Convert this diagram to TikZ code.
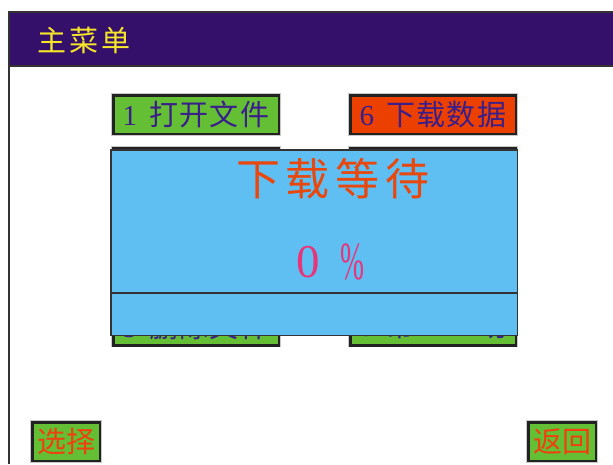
\documentclass[tikz,border=0pt]{standalone}
\usepackage{fontspec}
\setmainfont{Liberation Serif}
\newfontfamily\cjk{Noto Sans CJK SC}
\definecolor{hdrbg}{HTML}{34106B}
\definecolor{hdrtxt}{HTML}{F5E62A}
\definecolor{btngreen}{HTML}{64BF34}
\definecolor{btnorange}{HTML}{EC4000}
\definecolor{btnline}{HTML}{222222}
\definecolor{btnshadow}{HTML}{C8C8C8}
\definecolor{btntxt}{HTML}{3A1E8A}
\definecolor{redtxt}{HTML}{F0400E}
\definecolor{popbg}{HTML}{5FBFF2}
\definecolor{popline}{HTML}{333333}
\definecolor{titletxt}{HTML}{E8480E}
\definecolor{pinktxt}{HTML}{E8357A}
\newcommand{\zh}[1]{{\cjk #1}}
\tikzset{
  btn/.style={draw=btnline, line width=2.5pt, fill=btngreen, inner sep=0pt,
    preaction={draw=btnshadow, line width=4pt},
    minimum width=165.5pt, minimum height=38.5pt, text=btntxt,
    font=\fontsize{29}{30}\selectfont},
  smallbtn/.style={btn, minimum width=67.5pt, text=redtxt},
  popup/.style={draw=popline, line width=1.5pt, fill=popbg, inner sep=0pt,
    minimum width=406.5pt, minimum height=185.5pt},
}
\begin{document}
\begin{tikzpicture}[x=1pt,y=-1pt]
\useasboundingbox (0,0) rectangle (613,464);
\fill[white] (0,0) rectangle (613,464);
% frame and header
\fill[hdrbg] (9,12) rectangle (616,66);
\draw[popline, line width=1.5pt] (9,464) -- (9,12) -- (616,12);
\draw[popline, line width=1.5pt] (9,66) -- (616,66);
\node[text=hdrtxt, font=\fontsize{29}{30}\selectfont, anchor=west] (title) at (34,40)
  {\zh{主\hspace{3pt}菜\hspace{3pt}单}};
% menu buttons
\node[btn] (b1) at (196,114.5) {1\hspace{12pt}\zh{打\hspace{1.5pt}开\hspace{1.5pt}文\hspace{1.5pt}件}};
\node[btn, fill=btnorange] (b6) at (433,114.5) {6\hspace{12pt}\zh{下\hspace{1.5pt}载\hspace{1.5pt}数\hspace{1.5pt}据}};
\node[btn] (b2) at (196,167) {};
\node[btn] (b7) at (433,167) {};
\node[btn] (b5) at (196,326) {5\hspace{12pt}\zh{删\hspace{1.5pt}除\hspace{1.5pt}文\hspace{1.5pt}件}};
\node[btn] (b0) at (433,326) {0\hspace{12pt}\zh{帮\hspace{64pt}助}};
% popup
\node[popup] (pop) at (314,242.5) {};
\draw[popline, line width=1.2pt] (pop.west |- 0,293) -- (pop.east |- 0,293);
\node[text=titletxt, font=\fontsize{44}{46}\selectfont] (ptitle) at (333,178.5)
  {\zh{下\hspace{6pt}载\hspace{6pt}等\hspace{6pt}待}};
\node[text=pinktxt, font=\fontsize{47}{50}\selectfont, inner sep=0pt] (pct0) at (308,262) {0};
\node[text=pinktxt, font=\fontsize{48}{50}\selectfont, inner sep=0pt] (pctsign) at (352,262) {\scalebox{0.6}[1.12]{\%}};
% bottom buttons
\node[smallbtn] (sel) at (66,441.5) {\zh{选择}};
\node[smallbtn] (ret) at (562,441.5) {\zh{返回}};
\end{tikzpicture}
\end{document}
